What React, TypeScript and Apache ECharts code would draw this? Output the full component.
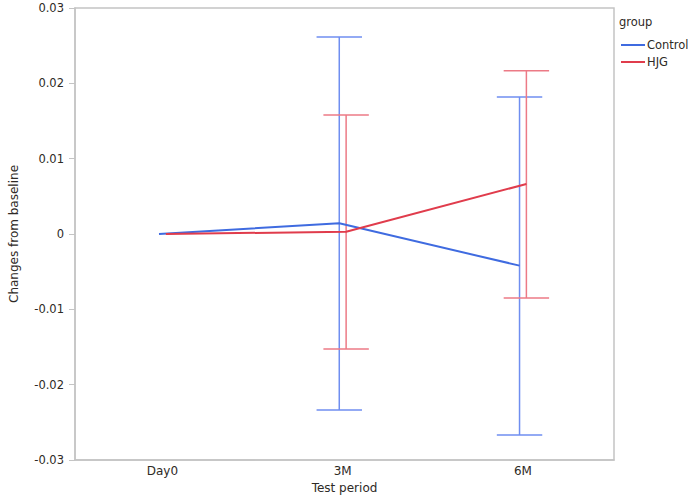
import React, { useEffect, useRef } from "react";
import * as echarts from "echarts";

const categories = ["Day0", "3M", "6M"];
const yTicks = [-0.03, -0.02, -0.01, 0, 0.01, 0.02, 0.03];
const controlMean = [0, 0.00142, -0.0042];
const controlLow = [null, -0.02336, -0.02668];
const controlHigh = [null, 0.02615, 0.01819];
const hjgMean = [0, 0.0003, 0.00664];
const hjgLow = [null, -0.01527, -0.0085];
const hjgHigh = [null, 0.0158, 0.02168];

const DODGE = 0.019;
const CAP = 0.126;
const FONT = "DejaVu Sans";
const TEXT = "#2e2a26";

function lineData(means: number[], off: number) {
  return means.map((v, i) => [i + off, v]);
}
function errData(lows: (number | null)[], highs: (number | null)[], off: number) {
  const out: number[][] = [];
  lows.forEach((lo, i) => {
    const hi = highs[i];
    if (lo !== null && hi !== null) out.push([i + off, lo, hi]);
  });
  return out;
}

function errSeries(name: string, data: number[][], color: string) {
  return {
    type: "custom",
    name: name + "-err",
    data,
    encode: { x: 0, y: [1, 2] },
    z: 1,
    renderItem: (params: any, api: any) => {
      const x = api.value(0);
      const lo = api.coord([x, api.value(1)]);
      const hi = api.coord([x, api.value(2)]);
      const l = api.coord([x - CAP, api.value(1)]);
      const r = api.coord([x + CAP, api.value(1)]);
      const style = { stroke: color, lineWidth: 1.5 };
      return {
        type: "group",
        children: [
          { type: "line", shape: { x1: lo[0], y1: lo[1], x2: hi[0], y2: hi[1] }, style },
          { type: "line", shape: { x1: l[0], y1: lo[1], x2: r[0], y2: lo[1] }, style },
          { type: "line", shape: { x1: l[0], y1: hi[1], x2: r[0], y2: hi[1] }, style },
        ],
      };
    },
  };
}

export default function App() {
  const ref = useRef<HTMLDivElement>(null);
  useEffect(() => {
    document.body.style.margin = "0";
    const chart = echarts.init(ref.current!, null, { renderer: "svg" });
    const axisLine = { show: true, onZero: false, lineStyle: { color: "#c4c4c4", width: 1.5 } };
    chart.setOption({
      animation: false,
      backgroundColor: "#ffffff",
      grid: {
        left: 69,
        right: 78,
        top: 8,
        bottom: 39,
        show: true,
        borderColor: "#c4c4c4",
        borderWidth: 1.5,
      },
      graphic: [
        {
          type: "text",
          left: 619,
          top: 16,
          style: { text: "group", font: `11.5px "${FONT}"`, fill: TEXT },
        },
      ],
      legend: {
        data: ["Control", "HJG"],
        orient: "vertical",
        left: 616,
        top: 34,
        icon: "rect",
        itemWidth: 24,
        itemHeight: 2,
        itemGap: 5,
        textStyle: { fontFamily: FONT, fontSize: 11.5, color: TEXT, padding: [0, 0, 0, -3] },
      },
      xAxis: {
        type: "value",
        min: -0.485,
        max: 2.505,
        name: "Test period",
        nameLocation: "middle",
        nameGap: 21,
        nameTextStyle: { fontFamily: FONT, fontSize: 12, color: TEXT },
        axisLine,
        axisTick: { show: false },
        splitLine: { show: false },
        axisLabel: {
          customValues: [0, 1, 2],
          formatter: (v: number) => categories[Math.round(v)],
          fontFamily: FONT,
          fontSize: 12,
          color: TEXT,
          margin: 5,
        },
      },
      yAxis: {
        type: "value",
        min: yTicks[0],
        max: yTicks[yTicks.length - 1],
        interval: 0.01,
        name: "Changes from baseline",
        nameLocation: "middle",
        nameGap: 55,
        nameTextStyle: { fontFamily: FONT, fontSize: 12, color: TEXT },
        axisLine,
        axisTick: { show: true, length: 6, lineStyle: { color: "#c4c4c4" } },
        splitLine: { show: false },
        axisLabel: {
          fontFamily: FONT,
          fontSize: 11.5,
          color: TEXT,
          margin: 11,
          formatter: (v: number) => String(parseFloat(v.toFixed(2))),
        },
      },
      series: [
        errSeries("Control", errData(controlLow, controlHigh, -DODGE), "#6f8ef0"),
        errSeries("HJG", errData(hjgLow, hjgHigh, DODGE), "#ec7a86"),
        {
          type: "line",
          name: "Control",
          data: lineData(controlMean, -DODGE),
          showSymbol: false,
          symbol: "none",
          lineStyle: { color: "#3f6be0", width: 2 },
          itemStyle: { color: "#3f6be0" },
          z: 3,
        },
        {
          type: "line",
          name: "HJG",
          data: lineData(hjgMean, DODGE),
          showSymbol: false,
          symbol: "none",
          lineStyle: { color: "#e03c4c", width: 2 },
          itemStyle: { color: "#e03c4c" },
          z: 3,
        },
      ],
    });
    return () => chart.dispose();
  }, []);
  return <div ref={ref} style={{ width: 692, height: 499 }} />;
}
